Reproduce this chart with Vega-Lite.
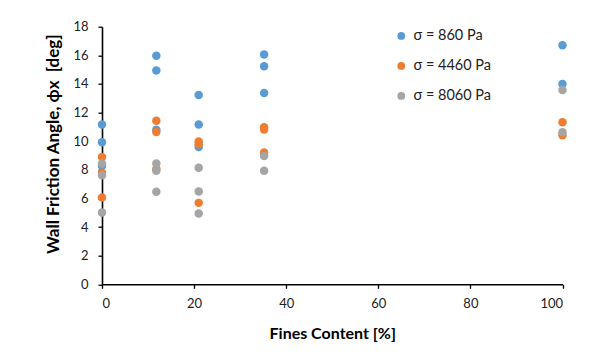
{
  "$schema": "https://vega.github.io/schema/vega-lite/v6.json",
  "width": 460.5,
  "height": 257.6,
  "autosize": "none",
  "padding": {"left": 102, "top": 26.7, "right": 34.5, "bottom": 75.7},
  "background": "white",
  "config": {
    "view": {"stroke": null},
    "font": "Lato",
    "axis": {
      "domainColor": "black",
      "domainWidth": 1.6,
      "tickColor": "black",
      "tickWidth": 1.3,
      "tickSize": 4,
      "grid": false,
      "labelFont": "Lato",
      "labelFontSize": 13,
      "labelColor": "#222",
      "titleFont": "Lato",
      "titleFontWeight": "bold",
      "titleColor": "black"
    }
  },
  "data": {
    "values": [
      {"fines": 0, "phi": 11.17, "s": "σ = 860 Pa"},
      {"fines": 0, "phi": 9.93, "s": "σ = 860 Pa"},
      {"fines": 0, "phi": 8.27, "s": "σ = 860 Pa"},
      {"fines": 11.8, "phi": 15.97, "s": "σ = 860 Pa"},
      {"fines": 11.8, "phi": 14.94, "s": "σ = 860 Pa"},
      {"fines": 11.8, "phi": 10.8, "s": "σ = 860 Pa"},
      {"fines": 21, "phi": 13.22, "s": "σ = 860 Pa"},
      {"fines": 21, "phi": 11.17, "s": "σ = 860 Pa"},
      {"fines": 21, "phi": 9.6, "s": "σ = 860 Pa"},
      {"fines": 35.2, "phi": 16.06, "s": "σ = 860 Pa"},
      {"fines": 35.2, "phi": 15.24, "s": "σ = 860 Pa"},
      {"fines": 35.2, "phi": 13.36, "s": "σ = 860 Pa"},
      {"fines": 100, "phi": 16.71, "s": "σ = 860 Pa"},
      {"fines": 100, "phi": 13.99, "s": "σ = 860 Pa"},
      {"fines": 0, "phi": 8.9, "s": "σ = 4460 Pa"},
      {"fines": 0, "phi": 7.8, "s": "σ = 4460 Pa"},
      {"fines": 0, "phi": 6.06, "s": "σ = 4460 Pa"},
      {"fines": 11.8, "phi": 11.42, "s": "σ = 4460 Pa"},
      {"fines": 11.8, "phi": 10.65, "s": "σ = 4460 Pa"},
      {"fines": 11.8, "phi": 8.05, "s": "σ = 4460 Pa"},
      {"fines": 21, "phi": 9.98, "s": "σ = 4460 Pa"},
      {"fines": 21, "phi": 9.79, "s": "σ = 4460 Pa"},
      {"fines": 21, "phi": 5.69, "s": "σ = 4460 Pa"},
      {"fines": 35.2, "phi": 10.98, "s": "σ = 4460 Pa"},
      {"fines": 35.2, "phi": 10.82, "s": "σ = 4460 Pa"},
      {"fines": 35.2, "phi": 9.21, "s": "σ = 4460 Pa"},
      {"fines": 100, "phi": 11.33, "s": "σ = 4460 Pa"},
      {"fines": 100, "phi": 10.42, "s": "σ = 4460 Pa"},
      {"fines": 0, "phi": 8.44, "s": "σ = 8060 Pa"},
      {"fines": 0, "phi": 7.62, "s": "σ = 8060 Pa"},
      {"fines": 0, "phi": 5.01, "s": "σ = 8060 Pa"},
      {"fines": 11.8, "phi": 8.44, "s": "σ = 8060 Pa"},
      {"fines": 11.8, "phi": 7.93, "s": "σ = 8060 Pa"},
      {"fines": 11.8, "phi": 6.46, "s": "σ = 8060 Pa"},
      {"fines": 21, "phi": 8.14, "s": "σ = 8060 Pa"},
      {"fines": 21, "phi": 6.48, "s": "σ = 8060 Pa"},
      {"fines": 21, "phi": 4.94, "s": "σ = 8060 Pa"},
      {"fines": 35.2, "phi": 8.97, "s": "σ = 8060 Pa"},
      {"fines": 35.2, "phi": 7.93, "s": "σ = 8060 Pa"},
      {"fines": 100, "phi": 13.57, "s": "σ = 8060 Pa"},
      {"fines": 100, "phi": 10.63, "s": "σ = 8060 Pa"}
    ]
  },
  "mark": {"type": "circle", "size": 72, "opacity": 1},
  "encoding": {
    "x": {
      "field": "fines",
      "type": "quantitative",
      "scale": {"domain": [0, 100], "nice": false},
      "axis": {"values": [0, 20, 40, 60, 80, 100], "title": "Fines Content [%]", "titleFontSize": 16, "labelPadding": 9, "titlePadding": 15}
    },
    "y": {
      "field": "phi",
      "type": "quantitative",
      "scale": {"domain": [0, 18], "nice": false},
      "axis": {"values": [0, 2, 4, 6, 8, 10, 12, 14, 16, 18], "title": "Wall Friction Angle, ϕx\u00a0\u00a0[deg]", "titleFontSize": 17, "titleY": 117, "labelPadding": 10, "titlePadding": 10}
    },
    "color": {
      "field": "s",
      "type": "nominal",
      "scale": {"domain": ["σ = 860 Pa", "σ = 4460 Pa", "σ = 8060 Pa"], "range": ["#5B9BD5", "#ED7D31", "#A5A5A5"]},
      "legend": {
        "title": null,
        "orient": "none",
        "legendX": 292,
        "legendY": 2,
        "symbolType": "circle",
        "symbolSize": 60,
        "symbolOpacity": 1,
        "labelFont": "Lato",
        "labelFontSize": 14.5,
        "labelColor": "#222",
        "labelOffset": 5,
        "rowPadding": 15
      }
    }
  }
}
